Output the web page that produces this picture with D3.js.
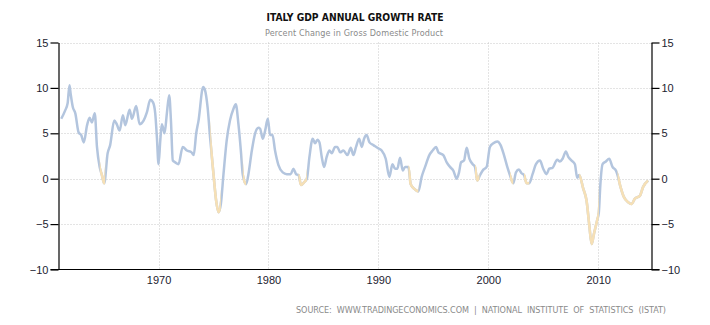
<!DOCTYPE html>
<html>
<head>
<meta charset="utf-8">
<script src="https://cdn.jsdelivr.net/npm/d3@7"></script>
<style>
  body { margin: 0; background: #fff; }
  svg { display: block; }
</style>
</head>
<body>
<svg width="710" height="325"></svg>
<script>
// time (decimal year) and growth (%)
var years = [
  1961.15, 1961.5, 1961.73, 1961.9, 1962.0, 1962.2, 1962.43, 1962.73, 1962.97, 1963.2,
  1963.5, 1963.73, 1963.94, 1964.2, 1964.4, 1964.64, 1964.85, 1965.06, 1965.37, 1965.6,
  1965.97, 1966.2, 1966.46, 1966.76, 1966.97, 1967.37, 1967.58, 1967.97, 1968.28, 1968.64,
  1968.94, 1969.25, 1969.5, 1969.7, 1969.85, 1970.0, 1970.16, 1970.3, 1970.55, 1970.76,
  1970.97, 1971.13, 1971.3, 1971.52, 1971.82, 1972.2, 1972.58, 1973.0, 1973.2, 1973.43,
  1973.64, 1974.06, 1974.24, 1974.46, 1974.7, 1975.0, 1975.24, 1975.46, 1975.67, 1975.91,
  1976.2, 1976.5, 1976.82, 1977.03, 1977.27, 1977.49, 1977.67, 1977.97, 1978.18, 1978.49,
  1978.79, 1979.09, 1979.24, 1979.49, 1979.7, 1979.94, 1980.15, 1980.37, 1980.6, 1980.91,
  1981.3, 1981.67, 1982.03, 1982.27, 1982.52, 1982.73, 1982.97, 1983.24, 1983.5, 1983.73,
  1984.03, 1984.24, 1984.46, 1984.64, 1984.85, 1985.06, 1985.3, 1985.55, 1985.76, 1986.06,
  1986.27, 1986.52, 1986.82, 1987.19, 1987.49, 1987.73, 1987.97, 1988.25, 1988.49, 1988.7,
  1988.94, 1989.19, 1989.55, 1989.91, 1990.3, 1990.67, 1991.0, 1991.28, 1991.52, 1991.73,
  1991.97, 1992.22, 1992.43, 1992.73, 1992.94, 1993.25, 1993.64, 1993.94, 1994.25, 1994.64,
  1994.94, 1995.25, 1995.46, 1995.91, 1996.22, 1996.52, 1996.82, 1997.13, 1997.34, 1997.52,
  1997.79, 1998.04, 1998.28, 1998.58, 1998.79, 1999.0, 1999.25, 1999.55, 1999.85, 2000.15,
  2000.46, 2000.82, 2001.12, 2001.43, 2001.73, 2001.97, 2002.27, 2002.52, 2002.79, 2003.03,
  2003.25, 2003.49, 2003.73, 2004.03, 2004.34, 2004.7, 2005.0, 2005.3, 2005.55, 2005.85,
  2006.27, 2006.52, 2006.76, 2007.06, 2007.28, 2007.58, 2007.88, 2008.09, 2008.27, 2008.64,
  2008.94, 2009.18, 2009.4, 2009.61, 2009.9, 2010.06, 2010.2, 2010.4, 2010.7, 2011.0,
  2011.3, 2011.61, 2011.76, 2012.03, 2012.33, 2012.73, 2013.03, 2013.34, 2013.79, 2014.09,
  2014.55
];

var growth = [
  6.6, 7.5, 8.3, 10.3, 9.4, 7.9, 7.2, 5.1, 4.8, 4.0,
  5.9, 6.7, 6.2, 7.2, 3.5, 1.3, 0.4, -0.5, 2.8, 3.7,
  6.4, 6.0, 5.3, 7.0, 5.9, 7.6, 6.6, 8.0, 6.0, 6.4,
  7.3, 8.7, 8.4, 7.2, 4.6, 1.6, 4.2, 6.0, 5.0, 7.2,
  9.2, 6.4, 2.0, 1.8, 1.6, 3.5, 3.1, 2.9, 2.6, 5.0,
  6.4, 10.1, 9.7, 7.9, 4.4, 0.5, -2.4, -3.7, -2.8, 0.5,
  4.2, 6.4, 7.7, 8.2, 6.0, 3.1, 0.4, -0.6, 0.5, 3.1,
  5.0, 5.6, 5.5, 4.4, 5.3, 6.6, 4.8, 4.8, 3.1, 1.5,
  0.7, 0.5, 0.5, 1.1, 0.5, 0.4, -0.7, -0.4, 0.0, 2.4,
  4.4, 3.9, 4.3, 4.0, 2.4, 1.3, 2.4, 3.1, 2.8, 3.5,
  3.5, 2.9, 3.1, 2.6, 3.4, 2.6, 3.5, 4.4, 3.5, 4.4,
  4.8, 4.0, 3.7, 3.4, 3.1, 2.2, 0.2, 1.6, 1.1, 1.1,
  2.3, 0.9, 1.3, 1.3, -0.6, -1.1, -1.4, 0.2, 1.3, 2.6,
  3.1, 3.5, 2.9, 2.6, 1.8, 1.3, 0.9, 0.0, 0.7, 1.8,
  2.0, 3.4, 2.2, 1.6, 1.3, -0.2, 0.4, 1.0, 1.3, 3.5,
  3.9, 4.1, 3.7, 2.6, 1.3, 0.4, -0.5, 0.7, 1.0, 0.6,
  0.4, -0.5, -0.5, 0.5, 1.6, 2.0, 1.1, 0.5, 1.1, 1.2,
  2.1, 1.9, 2.2, 3.0, 2.4, 2.0, 1.6, 0.1, 0.4, -1.1,
  -2.4, -5.0, -7.2, -6.1, -4.6, -3.7, -0.6, 1.6, 1.9, 2.2,
  1.3, 0.9, 0.4, -0.9, -2.0, -2.6, -2.8, -2.2, -1.9, -0.9,
  -0.2
];

// stretches drawn in the pale orange colour
var slowdowns = [
  [1964.65, 1965.15], [1974.7, 1975.67], [1977.67, 1977.97], [1982.73, 1983.5],
  [1992.73, 1993.64], [1998.79, 1999.2], [2001.97, 2002.27], [2003.25, 2003.73],
  [2008.27, 2010.06], [2011.76, 2014.6]
];

var yTicks = [-10, -5, 0, 5, 10, 15];
var xTicks = [1970, 1980, 1990, 2000, 2010];

var svg = d3.select("svg"),
    plotLeft = 58.5,
    plotRight = 651.5,
    plotTop = 42.5,
    plotBottom = 269.5;

var x = d3.scaleLinear().domain([1960.9, 2014.85]).range([plotLeft, plotRight]);
var y = d3.scaleLinear().domain([-10, 15]).range([plotBottom, plotTop]);

var data = years.map(function(t, i) { return { t: t, v: growth[i] }; });

// grid
svg.append("g")
  .selectAll("line")
  .data(yTicks.filter(function(d) { return d > -10; }))
  .join("line")
    .attr("x1", plotLeft).attr("x2", plotRight)
    .attr("y1", function(d) { return Math.round(y(d)) + 0.5; })
    .attr("y2", function(d) { return Math.round(y(d)) + 0.5; })
    .attr("stroke", "#c8c8c8")
    .attr("stroke-dasharray", "1,2");

svg.append("g")
  .selectAll("line")
  .data(xTicks)
  .join("line")
    .attr("x1", function(d) { return Math.round(x(d)) + 0.5; })
    .attr("x2", function(d) { return Math.round(x(d)) + 0.5; })
    .attr("y1", plotTop).attr("y2", plotBottom)
    .attr("stroke", "#c8c8c8")
    .attr("stroke-dasharray", "1,2");

// line
var line = d3.line()
    .x(function(d) { return x(d.t); })
    .y(function(d) { return y(d.v); })
    .curve(d3.curveMonotoneX);

var clip = svg.append("defs").append("clipPath").attr("id", "slow");
clip.selectAll("rect")
  .data(slowdowns)
  .join("rect")
    .attr("x", function(d) { return x(d[0]); })
    .attr("width", function(d) { return x(d[1]) - x(d[0]); })
    .attr("y", 0)
    .attr("height", 325);

svg.append("path")
    .datum(data)
    .attr("d", line)
    .attr("fill", "none")
    .attr("stroke", "#b3c5de")
    .attr("stroke-width", 2.5)
    .attr("stroke-linejoin", "round");

svg.append("path")
    .datum(data)
    .attr("d", line)
    .attr("clip-path", "url(#slow)")
    .attr("fill", "none")
    .attr("stroke", "#f6e0b6")
    .attr("stroke-width", 2.6)
    .attr("stroke-linejoin", "round");

// axes
var font = "Liberation Sans, Arial, sans-serif";

var leftAxis = svg.append("g")
    .attr("transform", "translate(" + plotLeft + ",0)")
    .call(d3.axisLeft(y).tickValues(yTicks).tickSize(8).tickPadding(2).tickSizeOuter(0));
var rightAxis = svg.append("g")
    .attr("transform", "translate(" + plotRight + ",0)")
    .call(d3.axisRight(y).tickValues(yTicks).tickSize(8).tickPadding(2).tickSizeOuter(0));
var bottomAxis = svg.append("g")
    .attr("transform", "translate(0," + plotBottom + ")")
    .call(d3.axisBottom(x).tickValues(xTicks).tickFormat(d3.format("d")).tickSize(0).tickPadding(7));

[leftAxis, rightAxis, bottomAxis].forEach(function(g) {
  g.selectAll("text")
    .attr("font-family", font)
    .attr("font-size", 11)
    .attr("fill", "#1c1c30");
  g.selectAll("line, path").attr("stroke", "#000").attr("stroke-width", 1.2);
});
bottomAxis.select(".domain").remove();

svg.append("line")
    .attr("x1", plotLeft - 8).attr("x2", plotRight + 8)
    .attr("y1", plotBottom).attr("y2", plotBottom)
    .attr("stroke", "#000")
    .attr("stroke-width", 1.2);

// titles
var textFont = "DejaVu Sans Condensed, DejaVu Sans, sans-serif";

svg.append("text")
    .attr("x", 355).attr("y", 21)
    .attr("text-anchor", "middle")
    .attr("font-family", textFont)
    .attr("font-weight", "bold")
    .attr("font-size", 11)
    .attr("textLength", 177)
    .attr("lengthAdjust", "spacingAndGlyphs")
    .attr("fill", "#111")
    .text("ITALY GDP ANNUAL GROWTH RATE");

svg.append("text")
    .attr("x", 354).attr("y", 36)
    .attr("text-anchor", "middle")
    .attr("font-family", textFont)
    .attr("font-size", 9)
    .attr("textLength", 178)
    .attr("fill", "#8a8a8a")
    .text("Percent Change in Gross Domestic Product");

svg.append("text")
    .attr("x", 296).attr("y", 313)
    .attr("font-family", textFont)
    .attr("font-size", 9)
    .attr("textLength", 370)
    .attr("xml:space", "preserve")
    .style("white-space", "pre")
    .attr("fill", "#8a8a8a")
    .text("SOURCE:  WWW.TRADINGECONOMICS.COM  |  NATIONAL  INSTITUTE  OF  STATISTICS  (ISTAT)");
</script>
</body>
</html>
